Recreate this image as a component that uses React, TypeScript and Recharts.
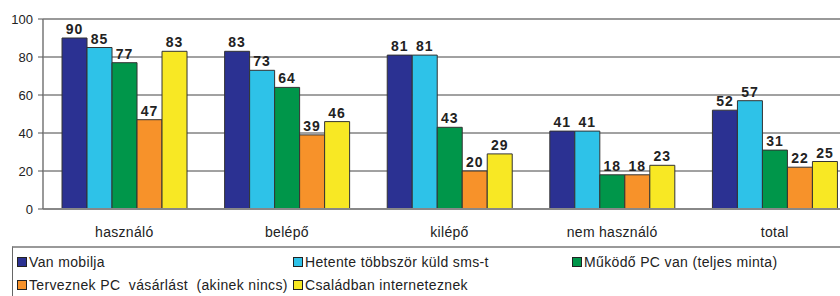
import React from 'react';
import { BarChart, Bar, XAxis, YAxis, CartesianGrid, ReferenceLine, LabelList } from 'recharts';

const categories = ['használó', 'belépő', 'kilépő', 'nem használó', 'total'];
const vanMobilja = [90, 83, 81, 41, 52];
const smsHetente = [85, 73, 81, 41, 57];
const mukodoPc = [77, 64, 43, 18, 31];
const tervezPc = [47, 39, 20, 18, 22];
const csaladNet = [83, 46, 29, 23, 25];
const yTicks = [0, 20, 40, 60, 80, 100];

const series = [
  { key: 'a', name: 'Van mobilja', values: vanMobilja, color: '#2B3192' },
  { key: 'b', name: 'Hetente többször küld sms-t', values: smsHetente, color: '#2EC2E8' },
  { key: 'c', name: 'Működő PC van (teljes minta)', values: mukodoPc, color: '#00964A' },
  { key: 'd', name: 'Terveznek PC  vásárlást  (akinek nincs)', values: tervezPc, color: '#F7922A' },
  { key: 'e', name: 'Családban interneteznek', values: csaladNet, color: '#F8E824' },
];

const data = categories.map((cat, i) => {
  const row: Record<string, string | number> = { cat };
  series.forEach((s) => (row[s.key] = s.values[i]));
  return row;
});

// legend item placement (left, top) inside the box
const legendPos = [
  [4, 6],
  [280, 6],
  [559, 6],
  [4, 29],
  [280, 29],
];

const font = '"Liberation Sans", Arial, sans-serif';

export default function App() {
  return (
    <div style={{ position: 'absolute', left: 0, top: 0, width: 840, height: 296, overflow: 'hidden', background: '#fff', fontFamily: font }}>
      <BarChart
        width={860}
        height={296}
        data={data}
        margin={{ top: 19, right: 4, left: 0, bottom: 0 }}
        barCategoryGap="11.7%"
        barGap={0}
      >
        <CartesianGrid xAxisId="cat" vertical={false} stroke="#444" />
        <XAxis
          xAxisId="bounds"
          type="number"
          domain={[0, 5]}
          ticks={[1, 2, 3, 4]}
          tick={false}
          axisLine={false}
          tickLine={{ stroke: '#777' }}
          tickSize={5}
          height={0}
        />
        <XAxis
          xAxisId="cat"
          dataKey="cat"
          height={87}
          tickSize={0}
          tickMargin={18}
          axisLine={{ stroke: '#888', strokeWidth: 2 }}
          tick={{ fill: '#222', fontSize: 14, fontFamily: font, letterSpacing: 0.3 }}
        />
        <YAxis
          width={43}
          domain={[0, 100]}
          ticks={yTicks}
          tickSize={5}
          tickMargin={5}
          axisLine={{ stroke: '#777', strokeWidth: 1.5 }}
          tickLine={{ stroke: '#555' }}
          tick={{ fill: '#222', fontSize: 13, fontFamily: font }}
        />
        <ReferenceLine xAxisId="cat" y={100} stroke="#999" strokeWidth={2} />
        {series.map((s) => (
          <Bar
            key={s.key}
            xAxisId="cat"
            dataKey={s.key}
            name={s.name}
            fill={s.color}
            stroke="#333"
            strokeWidth={1}
            isAnimationActive={false}
          >
            <LabelList
              dataKey={s.key}
              position="top"
              offset={4}
              style={{ fill: '#222', fontSize: 14, fontWeight: 'bold', fontFamily: font, letterSpacing: 1 }}
            />
          </Bar>
        ))}
      </BarChart>
      <div
        style={{
          position: 'absolute',
          left: 12,
          top: 246,
          width: 860,
          height: 80,
          borderTop: '2px solid #999',
          borderLeft: '1px solid #666',
          background: '#fff',
          fontSize: 14,
          letterSpacing: 0.35,
          color: '#222',
        }}
      >
        {series.map((s, i) => (
          <div
            key={s.key}
            style={{ position: 'absolute', left: legendPos[i][0], top: legendPos[i][1], display: 'flex', alignItems: 'center', whiteSpace: 'pre' }}
          >
            <span style={{ display: 'inline-block', width: 8, height: 8, background: s.color, border: '1px solid #222', marginRight: 2 }} />
            <span>{s.name}</span>
          </div>
        ))}
      </div>
    </div>
  );
}
